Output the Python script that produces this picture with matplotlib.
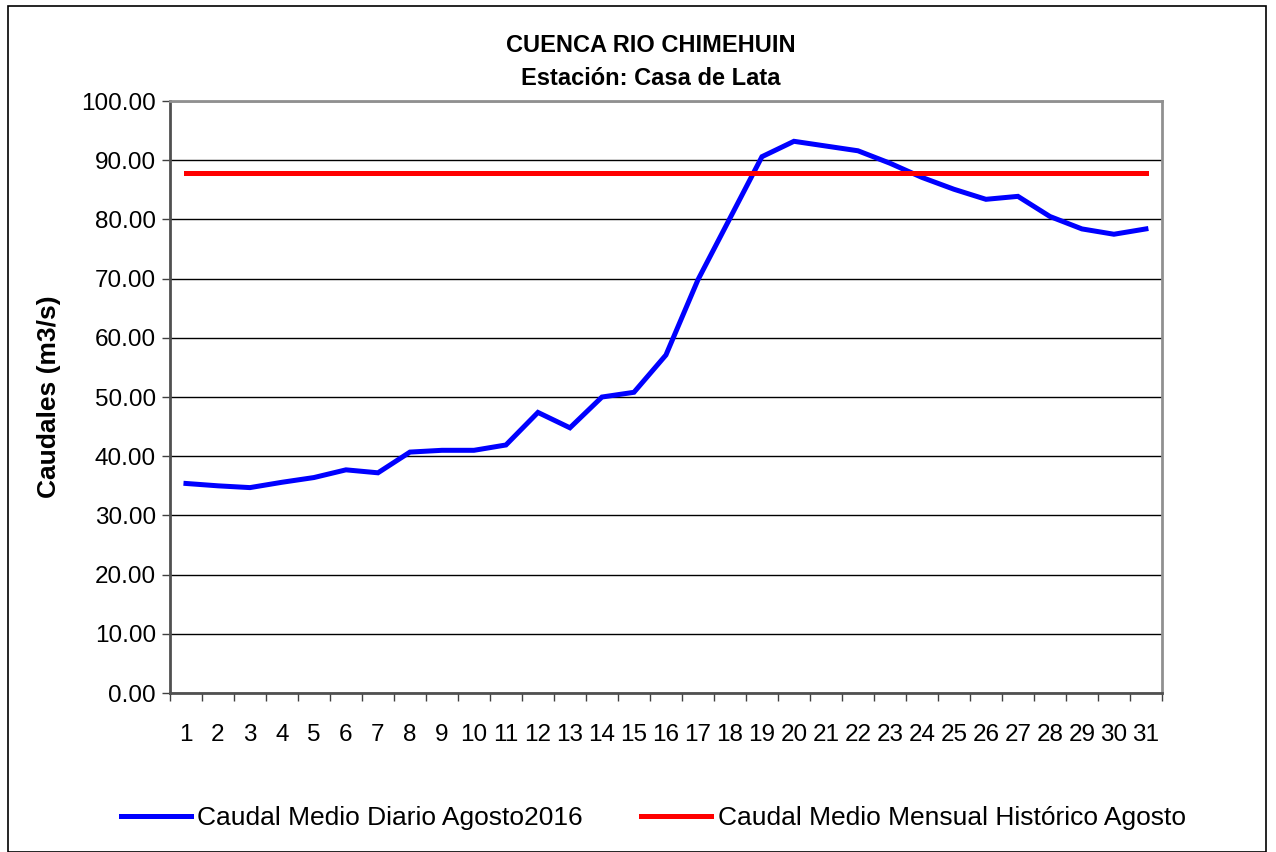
import numpy as np
import matplotlib.pyplot as plt
from matplotlib.patches import Rectangle

plt.rcParams['font.family'] = ['Liberation Sans', 'DejaVu Sans']

# Caudales diarios agosto 2016 (m3/s)
dias = list(range(1, 32))
caudal_diario = [35.4, 35.0, 34.7, 35.6, 36.4, 37.7, 37.2, 40.7, 41.0, 41.0,
                 41.9, 47.4, 44.8, 50.0, 50.8, 57.1, 69.8, 80.2, 90.6, 93.2,
                 92.4, 91.6, 89.5, 87.1, 85.1, 83.4, 83.9, 80.5, 78.4, 77.5,
                 78.4]
caudal_historico = [87.8] * 31

fig = plt.figure(figsize=(12.76, 8.52), dpi=100)
ax = fig.add_axes([0.1332, 0.1866, 0.7774, 0.6948])

# borde exterior del grafico
fig.patches.append(Rectangle((0.006, 0.0), 0.986, 0.993, transform=fig.transFigure,
                             fill=False, edgecolor='black', linewidth=1.2))

ax.plot(dias, caudal_diario, color='#0000ff', linewidth=3.6,
        label='Caudal Medio Diario Agosto2016', solid_joinstyle='miter')
ax.plot(dias, caudal_historico, color='#ff0000', linewidth=3.6,
        label='Caudal Medio Mensual Histórico Agosto')

ax.set_xlim(0.5, 31.5)
ax.set_ylim(0, 100)
ax.set_yticks(np.arange(0, 101, 10))
ax.set_yticklabels([f'{v:.2f}' for v in np.arange(0, 101, 10)], fontsize=17.5)
ax.set_xticks(dias)
ax.set_xticklabels([str(d) for d in dias], fontsize=17.5)
ax.set_xticks(np.arange(0.5, 32, 1), minor=True)
ax.tick_params(axis='x', which='major', length=0, pad=22)
ax.tick_params(axis='x', which='minor', length=6, width=1, color='#404040')
ax.tick_params(axis='y', length=6, width=1, color='#404040', pad=4)

ax.grid(axis='y', color='black', linewidth=1)
ax.set_axisbelow(True)
for lado in ['top', 'right']:
    ax.spines[lado].set_color('#909090')
    ax.spines[lado].set_linewidth(2)
for lado in ['left', 'bottom']:
    ax.spines[lado].set_color('#505050')
    ax.spines[lado].set_linewidth(2)

ax.set_ylabel('Caudales (m3/s)', fontsize=19, fontweight='bold')
ax.yaxis.set_label_coords(-0.110, 0.5)

fig.text(0.51, 0.947, 'CUENCA RIO CHIMEHUIN', ha='center', va='center',
         fontsize=17, fontweight='bold')
fig.text(0.51, 0.908, 'Estación: Casa de Lata', ha='center', va='center',
         fontsize=17, fontweight='bold')

fig.legend(loc='center', bbox_to_anchor=(0.512, 0.04), ncol=2, frameon=False,
           fontsize=19, handlelength=2.65, handletextpad=0.25, columnspacing=2.2)

plt.savefig('out.png', dpi=100)
